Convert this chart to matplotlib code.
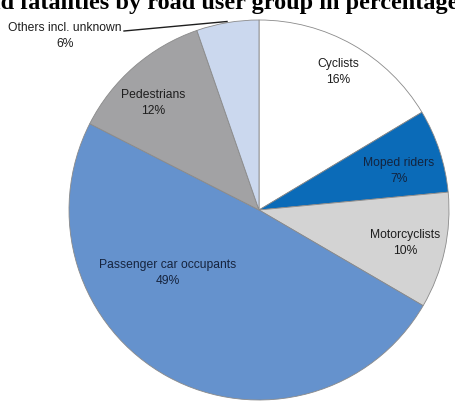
import numpy as np
import matplotlib
matplotlib.use("Agg")
import matplotlib.pyplot as plt

# Road fatalities by road user group (share)
groups = ["Cyclists", "Moped riders", "Motorcyclists",
          "Passenger car occupants", "Pedestrians", "Others incl. unknown"]
shares = [16.4, 7.1, 9.9, 49.1, 12.2, 5.3]
pct_labels = ["16%", "7%", "10%", "49%", "12%", "6%"]

colors = ["#ffffff", "#0b6bb8", "#d3d3d3", "#6592cd", "#a2a2a4", "#cbd8ee"]
text_colors = ["#1e1e1e", "#13243f", "#1e1e1e", "#16243e", "#1e1e1e", "#1e1e1e"]

W, H = 456, 408
fig = plt.figure(figsize=(W / 100, H / 100), dpi=100)
ax = fig.add_axes([0, 0, 1, 1])

# pie in pixel coordinates (y measured from the bottom)
cx, cy, r = 259, H - 210, 190
ax.pie(shares, colors=colors, startangle=90, counterclock=False,
       center=(cx, cy), radius=r,
       wedgeprops=dict(edgecolor="#8a8a8a", linewidth=0.6))
ax.set_xlim(0, W)
ax.set_ylim(0, H)
ax.set_aspect("equal")
ax.axis("off")

font = ["Liberation Sans", "DejaVu Sans"]

# label positions (image pixels, from top-left)
label_pos = [(338, 72), (399, 171), (405, 243), (168, 273), (153, 103), (65, 36)]
for name, pct, tc, (x, y) in zip(groups, pct_labels, text_colors, label_pos):
    ax.text(x, H - y, name + "\n" + pct, ha="center", va="center",
            fontsize=8.7, family=font, color=tc, linespacing=1.45)

# leader line for the small slice
ax.plot([124, 227], [H - 31, H - 21.5], color="#1e1e1e", linewidth=1.0)

# title, cut off at the top of the picture
fig.text(458 / W, 1 - 9 / H, "Road fatalities by road user group in percentage",
         ha="right", va="baseline", fontsize=17.5, fontweight="bold",
         family=["Liberation Serif", "DejaVu Serif"], color="#000000")

fig.savefig("out.png", dpi=100)
